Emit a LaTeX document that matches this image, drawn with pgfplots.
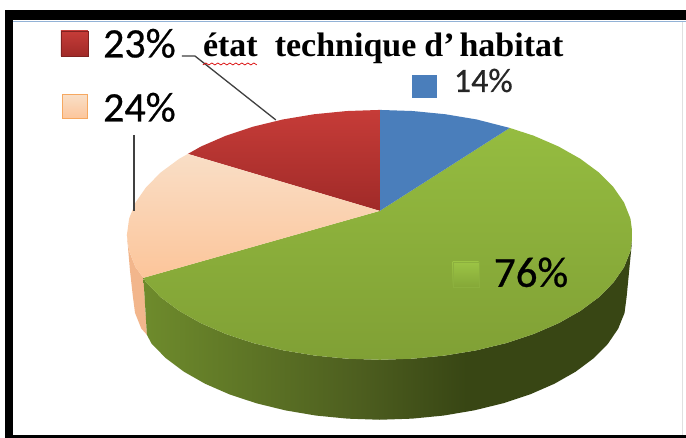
\documentclass[border=0pt]{standalone}
\usepackage{pgfplots}
\pgfplotsset{compat=1.18}
\usepackage{fontspec}
\setmainfont[FakeBold=0.6]{Carlito}
\newfontfamily\serifb{Liberation Serif}
\definecolor{gs1}{HTML}{6E8B2C}
\definecolor{gs2}{HTML}{4D5E1F}
\definecolor{gs3}{HTML}{384614}
\definecolor{green1}{HTML}{95BC40}
\definecolor{green2}{HTML}{80A035}
\definecolor{green3}{HTML}{9CC445}
\definecolor{green4}{HTML}{85A838}
\definecolor{blueslice}{HTML}{4A7EBB}
\definecolor{red1}{HTML}{C63C38}
\definecolor{red2}{HTML}{A02A28}
\definecolor{peach1}{HTML}{F9DEC6}
\definecolor{peach2}{HTML}{FCC59A}
\definecolor{peachside}{HTML}{F2B68C}
\definecolor{peachedge}{HTML}{F6A860}
\pgfdeclarehorizontalshading{greenside}{100bp}{color(0bp)=(gs1); color(25bp)=(gs1); color(47bp)=(gs2); color(58bp)=(gs3); color(75bp)=(gs3); color(100bp)=(gs3)}
\begin{document}
\begin{tikzpicture}
\begin{axis}[scale only axis, width=686pt, height=438pt, xmin=0, xmax=686, ymin=0, ymax=438, y dir=reverse, axis lines=none, clip=false, ticks=none]
% page
\addplot[fill=white, draw=none] coordinates {(0,0)(686,0)(686,438)(0,438)} --cycle;
% frame
\addplot[fill=black, draw=none] coordinates {(5,10)(686,10)(686,20.5)(5,20.5)} --cycle;
\addplot[fill=black, draw=none] coordinates {(5,10)(13,10)(13,438)(5,438)} --cycle;
\addplot[fill=black, draw=none] coordinates {(5,435)(686,435)(686,438)(5,438)} --cycle;
\addplot[color=blueslice!60, line width=0.8pt] coordinates {(13,21)(686,21)};
\addplot[color=black!12, line width=0.6pt] coordinates {(683,22)(683,435)};
% peach side
\addplot[fill=peachside, draw=none] coordinates {(127,235)(129.2,251.3)(135.6,267.4)(143.5,278)(147,335)(141.4,328.8)(135.1,313.1)(133,297)(130,270)} --cycle;
% green side
\addplot[shading=greenside, draw=none] coordinates {(633,235)(630.8,251.3)(624.4,267.4)(613.7,282.8)(599.1,297.5)(580.7,311.1)(558.9,323.4)(534,334.2)(506.5,343.3)(476.8,350.5)(445.5,355.7)(413,358.9)(380,360)(347,358.9)(314.5,355.7)(283.2,350.5)(253.5,343.3)(226,334.2)(201.1,323.4)(179.3,311.1)(160.9,297.5)(146.3,282.8)(143.5,278)(147,335)(151.8,344.1)(166.1,358.5)(184,371.9)(205.3,384)(229.6,394.6)(256.5,403.5)(285.5,410.6)(316.1,415.8)(347.8,418.9)(380,420)(412.2,418.9)(443.9,415.8)(474.5,410.6)(503.5,403.5)(530.4,394.6)(554.7,384)(576,371.9)(593.9,358.5)(608.2,344.1)(618.6,328.8)(624.9,313.1)(627,297)} --cycle;
% top: green
\addplot[top color=green1, bottom color=green2, draw=none] coordinates {(380,211)(510,128)(534,135.8)(558.9,146.6)(580.7,158.9)(599.1,172.5)(613.7,187.2)(624.4,202.6)(630.8,218.7)(633,235)(630.8,251.3)(624.4,267.4)(613.7,282.8)(599.1,297.5)(580.7,311.1)(558.9,323.4)(534,334.2)(506.5,343.3)(476.8,350.5)(445.5,355.7)(413,358.9)(380,360)(347,358.9)(314.5,355.7)(283.2,350.5)(253.5,343.3)(226,334.2)(201.1,323.4)(179.3,311.1)(160.9,297.5)(146.3,282.8)(143.5,278)} --cycle;
% top: blue
\addplot[fill=blueslice, draw=none] coordinates {(380,211)(380,110)(413,111.1)(445.5,114.3)(476.8,119.5)(510,128)} --cycle;
% top: red
\addplot[top color=red1, bottom color=red2, draw=none] coordinates {(380,211)(188,154)(201.1,146.6)(226,135.8)(253.5,126.7)(283.2,119.5)(314.5,114.3)(347,111.1)(380,110)} --cycle;
% top: peach
\addplot[top color=peach1, bottom color=peach2, draw=none] coordinates {(380,211)(143.5,278)(135.6,267.4)(129.2,251.3)(127,235)(129.2,218.7)(135.6,202.6)(146.3,187.2)(160.9,172.5)(179.3,158.9)(188,154)} --cycle;
% leader lines
\addplot[color=black!75, line width=1.3pt] coordinates {(182,56)(195,56)(276,120)};
\addplot[color=black!75, line width=1.3pt] coordinates {(134,135)(134,211)};
% legend keys
\addplot[top color=red1, bottom color=red2, draw=red2!80!black, line width=0.6pt] coordinates {(61,31)(88,31)(88,56)(61,56)} --cycle;
\addplot[top color=peach1, bottom color=peach2, draw=peachedge, line width=1pt] coordinates {(62.5,95)(88,95)(88,119)(62.5,119)} --cycle;
\addplot[fill=blueslice, draw=none] coordinates {(412,75)(437,75)(437,98)(412,98)} --cycle;
\addplot[top color=green3, bottom color=green4, draw=green3!90!black, line width=0.4pt] coordinates {(453,262)(479,262)(479,287)(453,287)} --cycle;
% wavy underline
\addplot[color=red!85!black, line width=0.7pt] coordinates {(203,65)(206,63)(209,65)(212,63)(215,65)(218,63)(221,65)(224,63)(227,65)(230,63)(233,65)(236,63)(239,65)(242,63)(245,65)(248,63)(251,65)(254,63)(257,65)};
% texts
\node[anchor=base west, inner sep=0pt, text=black] at (axis cs:103,57.5) {\fontsize{42}{42}\selectfont 23\%};
\node[anchor=base west, inner sep=0pt, text=black] at (axis cs:103,121.5) {\fontsize{42}{42}\selectfont 24\%};
\node[anchor=base west, inner sep=0pt, text=black!85] at (axis cs:454,92) {\fontsize{34}{34}\selectfont 14\%};
\node[anchor=base west, inner sep=0pt, text=black] at (axis cs:494,287) {\fontsize{43}{43}\selectfont 76\%};
\node[anchor=base west, inner sep=0pt, text=black] at (axis cs:203,57) {\serifb\bfseries\fontsize{34}{34}\selectfont état\hspace{17pt}technique\hspace{8pt}d’\hspace{5pt}habitat};
\end{axis}
\end{tikzpicture}
\end{document}
